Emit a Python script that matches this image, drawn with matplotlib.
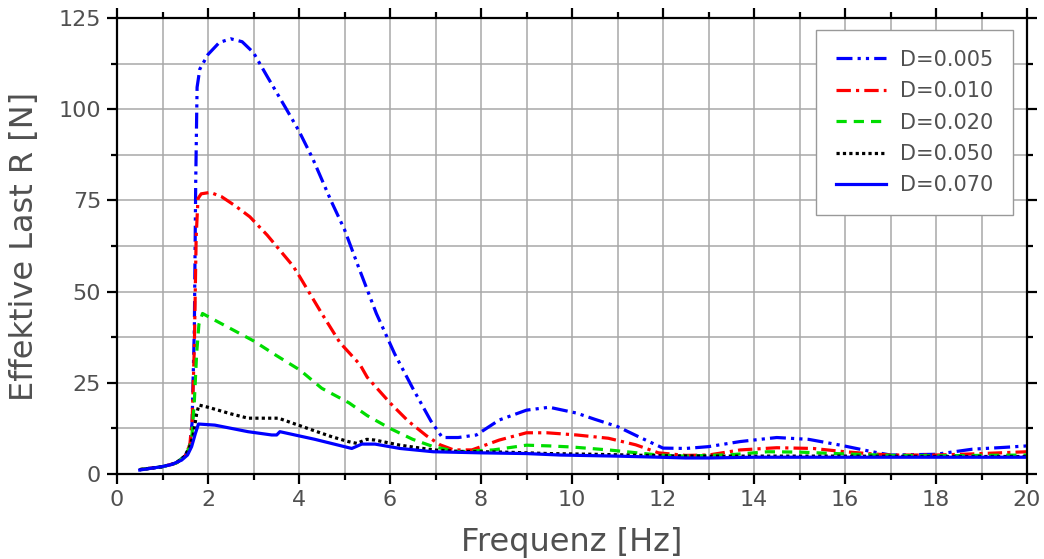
import numpy as np
import matplotlib
matplotlib.use('Agg')
import matplotlib.pyplot as plt
from matplotlib.ticker import MultipleLocator

# Read-off data (frequency in Hz, effective load in N)
f_005 = [0.5, 1.0, 1.3, 1.5, 1.6, 1.65, 1.7, 1.73, 1.76, 1.82, 2.0, 2.25, 2.5, 2.75, 3.0, 3.3,
         3.7, 4.0, 4.3, 4.7, 5.0, 5.3, 5.7, 6.1, 6.5, 6.9, 7.15, 7.5, 7.9, 8.4, 9.0, 9.5,
         10.1, 10.5, 11.0, 11.5, 12.0, 12.5, 13.0, 13.7, 14.5, 15.2, 15.9, 16.6, 17.0, 18.0,
         18.8, 19.5, 20.0]
r_005 = [1.2, 2.0, 3.0, 5.0, 8.0, 14, 40, 80, 106, 111, 115, 118.3, 119.3, 118.5, 115.5, 109,
         100.5, 94, 86.5, 75, 67, 57, 44, 33, 23.5, 14.5, 10, 10, 10.7, 14.8, 17.5, 18.3,
         16.7, 15, 13, 10, 7.1, 7.0, 7.5, 8.9, 10.0, 9.5, 7.9, 6.1, 5.2, 5.4,
         6.8, 7.3, 7.7]

f_010 = [0.5, 1.0, 1.3, 1.5, 1.6, 1.65, 1.7, 1.74, 1.78, 1.85, 2.05, 2.3, 2.6, 2.92, 3.3, 3.87,
         4.02, 4.5, 4.9, 5.34, 5.5, 6.0, 6.4, 6.8, 7.1, 7.4, 7.8, 8.4, 9.0, 9.45, 10.1, 10.8,
         11.4, 11.9, 12.5, 13.0, 13.7, 14.5, 15.3, 16.0, 16.5, 17.0, 18.0, 18.8, 20.0]
r_010 = [1.2, 2.0, 3.0, 5.0, 8.0, 14, 35, 65, 75.5, 76.8, 77.2, 76, 73.5, 70.5, 65.5, 57,
         54, 44, 36, 30, 26.5, 19.5, 14.5, 10.5, 8, 6.6, 6.6, 9.3, 11.3, 11.3, 10.7, 9.8,
         8, 5.8, 5.1, 5.2, 6.6, 7.2, 7.0, 6.1, 5.6, 5.2, 5.2, 5.5, 6.1]

f_020 = [0.5, 1.0, 1.3, 1.5, 1.6, 1.65, 1.7, 1.75, 1.8, 1.88, 2.1, 2.55, 3.0, 3.5, 4.02, 4.5,
         5.1, 5.5, 6.0, 6.5, 6.95, 7.5, 8.27, 9.0, 9.5, 10.0, 10.8, 11.9, 12.5, 13.5, 14.3,
         15.0, 16.0, 17.0, 18.0, 20.0]
r_020 = [1.2, 2.0, 3.0, 5.0, 7.5, 11, 20, 33, 41, 44, 42.5, 39.5, 36.5, 32.5, 28.5, 23.5,
         19.5, 16, 12.5, 9.5, 7.5, 6.1, 6.6, 7.9, 7.7, 7.4, 6.6, 5.2, 4.9, 5.3, 6.1,
         6.0, 5.5, 5.1, 5.0, 5.2]

f_050 = [0.5, 1.0, 1.3, 1.5, 1.6, 1.68, 1.75, 1.8, 2.0, 2.5, 2.88, 3.55, 3.8, 4.35, 4.7, 5.08,
         5.27, 5.49, 5.67, 6.22, 6.95, 7.5, 8.5, 9.5, 10.5, 12.0, 13.0, 14.0, 16.0, 18.0, 20.0]
r_050 = [1.2, 2.0, 3.0, 5.0, 7.5, 11, 16.5, 18.9, 18.3, 16.5, 15.3, 15.3, 14.2, 11.8, 10.3, 8.9,
         8.4, 9.5, 9.3, 7.9, 6.6, 6.2, 6.0, 5.6, 5.4, 5.0, 4.9, 4.9, 4.9, 4.8, 4.8]

f_070 = [0.5, 0.98, 1.2, 1.42, 1.55, 1.64, 1.72, 1.79, 2.15, 2.88, 3.4, 3.51, 3.58, 4.35, 5.16,
         5.38, 5.67, 6.22, 6.95, 8.0, 9.0, 9.74, 11.0, 11.93, 12.5, 13.0, 14.0, 16.0, 18.0, 20.0]
r_070 = [1.1, 2.0, 2.6, 3.8, 5.2, 7.5, 11, 13.7, 13.4, 11.6, 10.7, 10.7, 11.6, 9.5, 7.0,
         8.2, 8.2, 7.0, 6.1, 5.8, 5.6, 5.2, 4.9, 4.6, 4.4, 4.4, 4.6, 4.6, 4.6, 4.6]

labels = ["D=0.005", "D=0.010", "D=0.020", "D=0.050", "D=0.070"]

text_color = '#505050'
plt.rcParams['font.family'] = ['DejaVu Sans']

fig = plt.figure(figsize=(10.44, 5.59), dpi=100)
ax = fig.add_axes([117 / 1044, 85 / 559, 910 / 1044, 456 / 559])

lw = 2.3
ax.plot(f_005, r_005, color='#0000ff', lw=lw, ls=(0, (5, 1.6, 1, 1.6, 1, 1.6)), label=labels[0])
ax.plot(f_010, r_010, color='#ff0000', lw=lw, ls=(0, (4.5, 1.6, 1, 1.6)), label=labels[1])
ax.plot(f_020, r_020, color='#00dd00', lw=lw, ls=(0, (3.2, 2.2)), label=labels[2])
ax.plot(f_050, r_050, color='black', lw=lw, ls=(0, (1, 1)), label=labels[3])
ax.plot(f_070, r_070, color='#0000ff', lw=lw, ls='-', label=labels[4])

ax.set_xlim(0, 20)
ax.set_ylim(0, 125)
ax.xaxis.set_major_locator(MultipleLocator(2))
ax.xaxis.set_minor_locator(MultipleLocator(1))
ax.yaxis.set_major_locator(MultipleLocator(25))
ax.yaxis.set_minor_locator(MultipleLocator(12.5))

ax.grid(which='both', color='#a8a8a8', lw=1.1)
ax.set_axisbelow(True)

for s in ax.spines.values():
    s.set_linewidth(1.6)
ax.tick_params(which='both', direction='out', top=True, right=True, width=1.6,
               labelsize=16, labelcolor=text_color)
ax.tick_params(which='major', length=7.5, pad=4)
ax.tick_params(which='minor', length=4.5)

ax.set_xlabel("Frequenz [Hz]", fontsize=23, color=text_color, labelpad=12)
ax.set_ylabel("Effektive Last R [N]", fontsize=23, color=text_color, labelpad=13)

leg = ax.legend(loc='upper right', bbox_to_anchor=(0.985, 0.974), fontsize=15,
                handlelength=2.4, handletextpad=0.7, labelspacing=0.55,
                borderpad=0.95, borderaxespad=0, fancybox=False, framealpha=1,
                edgecolor='#999999')
leg.get_frame().set_linewidth(1.0)
for t in leg.get_texts():
    t.set_color(text_color)

fig.savefig('out.png', dpi=100)
